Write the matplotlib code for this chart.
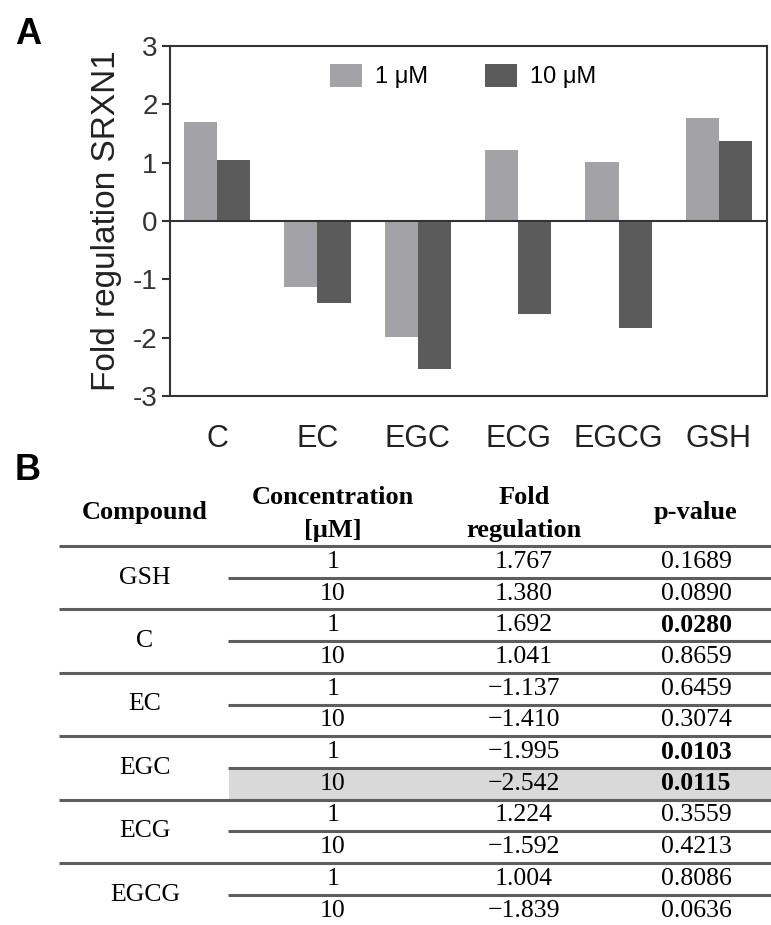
import matplotlib
matplotlib.use("Agg")
import matplotlib.pyplot as plt
import numpy as np
from matplotlib.patches import Rectangle

# ---------------- data ----------------
categories = ["C", "EC", "EGC", "ECG", "EGCG", "GSH"]
fold_1uM = [1.692, -1.137, -1.995, 1.224, 1.004, 1.767]
fold_10uM = [1.041, -1.410, -2.542, -1.592, -1.839, 1.380]
series_labels = ["1 μM", "10 μM"]
yticks = [-3, -2, -1, 0, 1, 2, 3]

table_compounds = ["GSH", "C", "EC", "EGC", "ECG", "EGCG"]
table_conc = ["1", "10"]
table_fold = [1.767, 1.380, 1.692, 1.041, -1.137, -1.410,
              -1.995, -2.542, 1.224, -1.592, 1.004, -1.839]
table_p = ["0.1689", "0.0890", "0.0280", "0.8659", "0.6459", "0.3074",
           "0.0103", "0.0115", "0.3559", "0.4213", "0.8086", "0.0636"]
highlight_row = 7

# ---------------- figure ----------------
W, H = 771, 925
fig = plt.figure(figsize=(W / 100, H / 100), dpi=100)

sans = "Liberation Sans"
serif = "Liberation Serif"
light = "#a3a3a7"
dark = "#5b5b5b"
axcol = "#333333"

ax = fig.add_axes([170 / W, 1 - 396 / H, (767 - 170) / W, (396 - 46) / H])
x = np.arange(len(categories))
bw = 0.33
ax.bar(x - bw / 2, fold_1uM, width=bw, color=light, label=series_labels[0])
ax.bar(x + bw / 2, fold_10uM, width=bw, color=dark, label=series_labels[1])
ax.axhline(0, color=axcol, lw=1.5, zorder=3)
ax.set_xlim(-0.47, 5.48)
ax.set_ylim(-3, 3)
ax.set_yticks(yticks)
ax.set_yticklabels([str(t) for t in yticks], fontsize=20, family=sans, color=axcol)
ax.set_xticks(x)
ax.set_xticklabels(categories, fontsize=22, family=sans, color="#222222")
ax.tick_params(axis="x", length=0, pad=20)
ax.tick_params(axis="y", length=6, width=1.5, pad=3, color=axcol)
for s in ax.spines.values():
    s.set_color(axcol)
    s.set_linewidth(1.5)
ax.set_ylabel("Fold regulation SRXN1", fontsize=24, family=sans, color="#222222", labelpad=8)

leg = ax.legend(loc="center left", bbox_to_anchor=((330 - 170) / 597, (396 - 76) / 350),
                ncol=2, frameon=False, borderpad=0, borderaxespad=0,
                handlelength=1.35, handleheight=1.15, handletextpad=0.55,
                columnspacing=2.4, prop={"family": sans, "size": 17})

fig.text(15 / W, 1 - 35 / H, "A", fontsize=26, fontweight="bold", family=sans, va="center", ha="left")
fig.text(15 / W, 1 - 470 / H, "B", fontsize=26, fontweight="bold", family=sans, va="center", ha="left")

# ---------------- table ----------------
tax = fig.add_axes([0, 0, 1, 1])
tax.set_xlim(0, W)
tax.set_ylim(H, 0)
tax.axis("off")

top = 546.0
rh = 31.7
col_x = [145, 333, 524, 696]
line_col = "#5e5e5e"
n_rows = len(table_fold)

# highlight
tax.add_patch(Rectangle((229, top + rh * highlight_row), W - 229, rh,
                        facecolor="#d9d9d9", edgecolor="none", zorder=0))

# header
hfs = 19
tax.text(col_x[0], 513, "Compound", family=serif, fontweight="bold", fontsize=hfs, ha="center", va="center")
tax.text(col_x[1], 497, "Concentration", family=serif, fontweight="bold", fontsize=hfs, ha="center", va="center")
tax.text(col_x[1], 530, "[μM]", family=serif, fontweight="bold", fontsize=hfs, ha="center", va="center")
tax.text(col_x[2], 497, "Fold", family=serif, fontweight="bold", fontsize=hfs, ha="center", va="center")
tax.text(col_x[2], 530, "regulation", family=serif, fontweight="bold", fontsize=hfs, ha="center", va="center")
tax.text(col_x[3], 513, "p-value", family=serif, fontweight="bold", fontsize=hfs, ha="center", va="center")

cfs = 18.5
for g, comp in enumerate(table_compounds):
    y0 = top + g * 2 * rh
    tax.plot([59, W], [y0, y0], color=line_col, lw=2.2, solid_capstyle="butt")
    tax.plot([228, W], [y0 + rh, y0 + rh], color=line_col, lw=2.2, solid_capstyle="butt")
    tax.text(col_x[0], y0 + rh, comp, family=serif, fontsize=cfs, ha="center", va="center")

for i in range(n_rows):
    yc = top + rh * (i + 0.5)
    tax.text(col_x[1], yc, table_conc[i % 2], family=serif, fontsize=cfs, ha="center", va="center")
    fv = f"{table_fold[i]:.3f}".replace("-", "\u2212")
    tax.text(col_x[2], yc, fv, family=serif, fontsize=cfs, ha="center", va="center")
    bold = float(table_p[i]) < 0.05
    tax.text(col_x[3], yc, table_p[i], family=serif, fontsize=cfs, ha="center", va="center",
             fontweight="bold" if bold else "normal")

fig.savefig("out.png", dpi=100)
